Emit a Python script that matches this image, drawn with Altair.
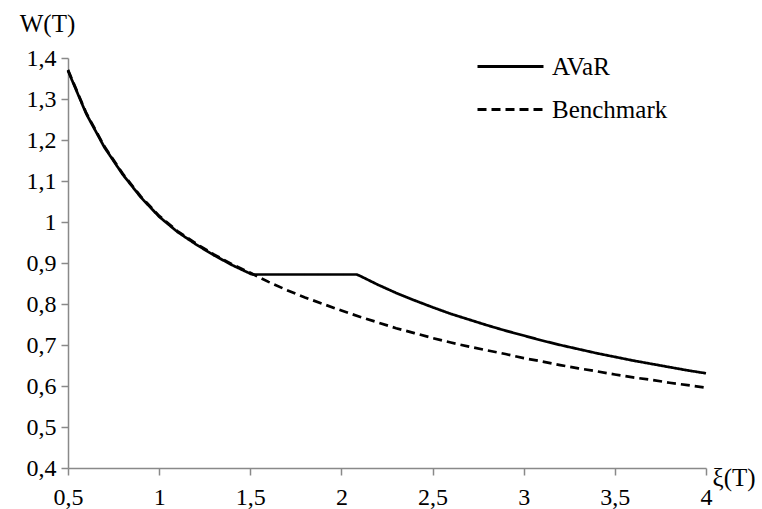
import altair as alt
import pandas as pd

# x values (ξ(T))
xs = [0.5, 0.6, 0.7, 0.8, 0.9, 1.0, 1.1, 1.2, 1.3, 1.4, 1.5, 1.6, 1.7, 1.8, 1.9, 2.0,
      2.1, 2.2, 2.3, 2.4, 2.5, 2.6, 2.7, 2.8, 2.9, 3.0, 3.1, 3.2, 3.3, 3.4, 3.5, 3.6,
      3.7, 3.8, 3.9, 4.0]

benchmark = [1.371, 1.266, 1.184, 1.118, 1.062, 1.015, 0.978, 0.948, 0.921, 0.897,
             0.876, 0.854, 0.834, 0.816, 0.800, 0.784, 0.769, 0.755, 0.741, 0.729,
             0.717, 0.706, 0.696, 0.687, 0.678, 0.668, 0.660, 0.651, 0.643, 0.636,
             0.628, 0.621, 0.615, 0.608, 0.602, 0.596]

avar_x = [0.5, 0.6, 0.7, 0.8, 0.9, 1.0, 1.1, 1.2, 1.3, 1.4, 1.5, 1.515, 2.084,
          2.1, 2.2, 2.3, 2.4, 2.5, 2.6, 2.7, 2.8, 2.9, 3.0, 3.1, 3.2, 3.3, 3.4, 3.5,
          3.6, 3.7, 3.8, 3.9, 4.0]
avar = [1.369, 1.264, 1.182, 1.116, 1.060, 1.013, 0.976, 0.946, 0.919, 0.895,
        0.874, 0.872, 0.872,
        0.869, 0.847, 0.827, 0.809, 0.792, 0.776, 0.762, 0.748, 0.735, 0.723,
        0.711, 0.700, 0.690, 0.680, 0.671, 0.662, 0.654, 0.646, 0.638, 0.631]

series_names = ["AVaR", "Benchmark"]

df = pd.concat([
    pd.DataFrame({"xi": avar_x, "W": avar, "series": series_names[0], "ord": range(len(avar_x))}),
    pd.DataFrame({"xi": xs, "W": benchmark, "series": series_names[1], "ord": range(len(xs))}),
])

FONT = "Liberation Serif"
AX = "#898989"

chart = alt.Chart(df).mark_line(color="black", strokeWidth=2.7).encode(
    x=alt.X("xi:Q",
            scale=alt.Scale(domain=[0.5, 4], nice=False, zero=False),
            axis=alt.Axis(values=[0.5, 1, 1.5, 2, 2.5, 3, 3.5, 4],
                          labelExpr="replace(format(datum.value, '.1~f'), '.', ',')",
                          title="ξ(T)", titleAngle=0, titleX=644, titleY=9,
                          titleAlign="left", titleBaseline="middle",
                          titleFont=FONT, titleFontSize=25, titleFontWeight="normal",
                          titleColor="black",
                          labelFont=FONT, labelFontSize=24, labelColor="black",
                          labelPadding=10, grid=False, domainColor=AX, domainWidth=1.5,
                          tickColor=AX, tickWidth=1.5, tickSize=7, labelFlush=False)),
    y=alt.Y("W:Q",
            scale=alt.Scale(domain=[0.4, 1.4], nice=False, zero=False),
            axis=alt.Axis(values=[0.4, 0.5, 0.6, 0.7, 0.8, 0.9, 1.0, 1.1, 1.2, 1.3, 1.4],
                          labelExpr="replace(format(datum.value, '.1~f'), '.', ',')",
                          title="W(T)", titleAngle=0, titleX=-21, titleY=-35,
                          titleAlign="center", titleBaseline="middle",
                          titleFont=FONT, titleFontSize=25, titleFontWeight="normal",
                          titleColor="black",
                          labelFont=FONT, labelFontSize=24, labelColor="black",
                          labelPadding=5, grid=False, domainColor=AX, domainWidth=1.5,
                          tickColor=AX, tickWidth=1.5, tickSize=7, labelFlush=False)),
    strokeDash=alt.StrokeDash("series:N",
                              scale=alt.Scale(domain=series_names, range=[[1, 0], [9, 5]]),
                              legend=alt.Legend(title=None, orient="none", legendX=408, legendY=-13,
                                                symbolType="stroke", symbolSize=4356,
                                                symbolStrokeColor="black", symbolStrokeWidth=3,
                                                labelFont=FONT, labelFontSize=25, labelColor="black",
                                                labelOffset=7, rowPadding=0, clipHeight=43)),
    order="ord:Q",
).properties(
    width=638, height=410,
    background="white",
    autosize=alt.AutoSizeParams(type="none"),
    padding={"left": 68, "top": 58, "right": 56, "bottom": 41},
).configure_view(stroke=None)

chart.save("out.html", embed_options={"renderer": "svg", "actions": False})
